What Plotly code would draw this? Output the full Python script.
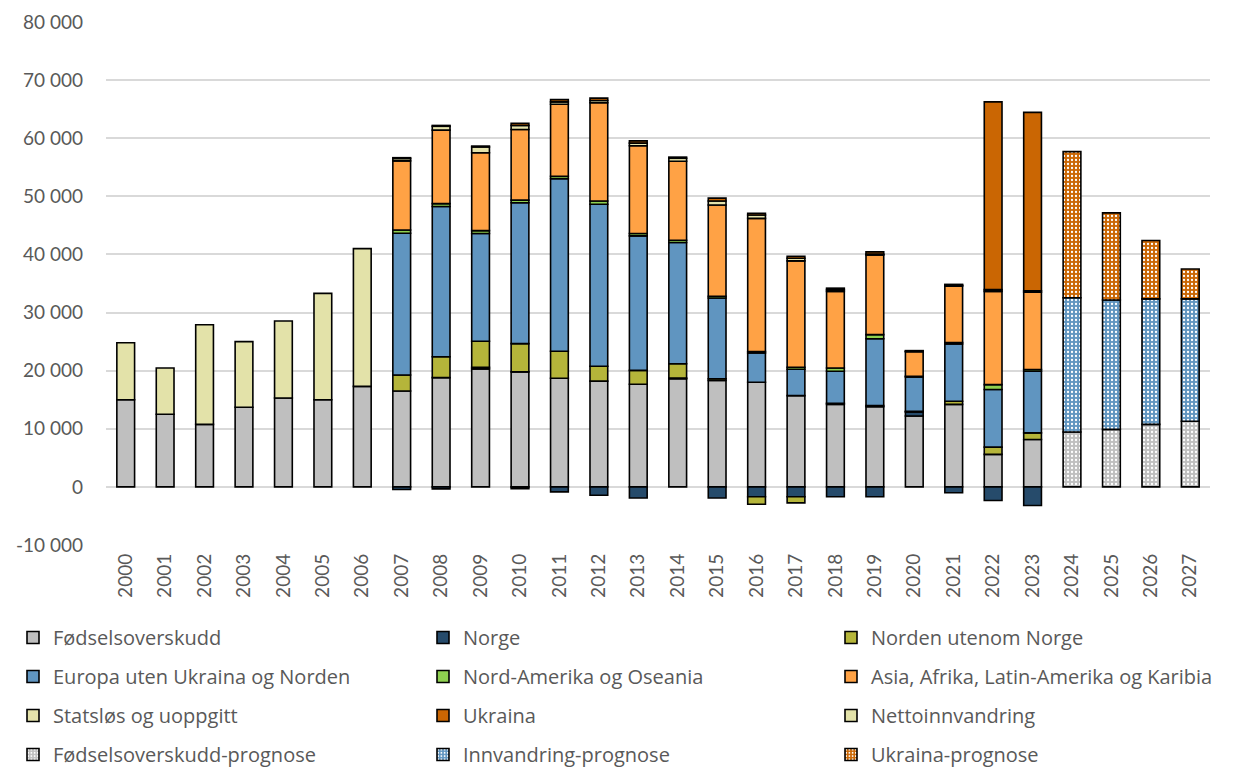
import plotly.graph_objects as go

years = [str(y) for y in range(2000, 2028)]
N = None

fodselsoverskudd = [15000, 12500, 10750, 13700, 15300, 15000, 17300, 16500, 18800, 20300,
                    19800, 18700, 18200, 17650, 18600, 18300, 18000, 15700, 14200, 13800,
                    12200, 14200, 5600, 8150, N, N, N, N]
norge = [N, N, N, N, N, N, N, -450, -350, 300,
         -300, -850, -1450, -1900, 150, -1900, -1700, -1700, -1700, -1700,
         700, -1000, -2350, -3200, N, N, N, N]
norden = [N, N, N, N, N, N, N, 2750, 3600, 4450,
          4850, 4650, 2550, 2400, 2450, 300, -1300, -1050, 200, 200,
          100, 550, 1250, 1150, N, N, N, N]
europa = [N, N, N, N, N, N, N, 24400, 25850, 18550,
          24250, 29700, 27900, 23150, 20850, 13900, 5050, 4550, 5500, 11500,
          5900, 9850, 9900, 10600, N, N, N, N]
nord_amerika = [N, N, N, N, N, N, N, 550, 500, 500,
                450, 400, 550, 400, 400, 300, 250, 350, 550, 700,
                150, 250, 850, 300, N, N, N, N]
asia_afrika = [N, N, N, N, N, N, N, 11900, 12650, 13400,
               12150, 12400, 16900, 15100, 13600, 15700, 22900, 18300, 13200, 13700,
               4200, 9700, 16050, 13300, N, N, N, N]
statslos = [N, N, N, N, N, N, N, 400, 650, 1000,
            700, 400, 400, 450, 500, 700, 600, 450, 300, 150,
            100, 150, 300, 250, N, N, N, N]
ukraina = [N, N, N, N, N, N, N, 150, 150, 150,
           350, 400, 400, 400, 200, 500, 300, 350, 250, 400,
           100, 150, 32300, 30700, N, N, N, N]
nettoinnvandring = [9800, 7950, 17150, 11300, 13250, 18300, 23700] + [N] * 21
fodsel_prognose = [N] * 24 + [9450, 9900, 10750, 11300]
innvandring_prognose = [N] * 24 + [23100, 22250, 21600, 21050]
ukraina_prognose = [N] * 24 + [25150, 15000, 10050, 5150]

y_ticks = [-10000, 0, 10000, 20000, 30000, 40000, 50000, 60000, 70000, 80000]
y_labels = ["-10 000", "0", "10 000", "20 000", "30 000", "40 000",
            "50 000", "60 000", "70 000", "80 000"]

TEXT = "#595959"
FONT = "Lato"
LEGEND_FONT = "Open Sans"

W, H = 1233, 769
ML, MR, MT, MB = 106, 23, 22, 224
PW, PH = W - ML - MR, H - MT - MB

series = [
    ("Fødselsoverskudd", fodselsoverskudd, "#BFBFBF", False, "legend"),
    ("Norge", norge, "#264B6B", False, "legend2"),
    ("Norden utenom Norge", norden, "#B5B53A", False, "legend3"),
    ("Europa uten Ukraina og Norden", europa, "#6095C0", False, "legend"),
    ("Nord-Amerika og Oseania", nord_amerika, "#8FD150", False, "legend2"),
    ("Asia, Afrika, Latin-Amerika og Karibia", asia_afrika, "#FFA245", False, "legend3"),
    ("Statsløs og uoppgitt", statslos, "#E5E3AB", False, "legend"),
    ("Ukraina", ukraina, "#CA6603", False, "legend2"),
    ("Nettoinnvandring", nettoinnvandring, "#E3E2A9", False, "legend3"),
    ("Fødselsoverskudd-prognose", fodsel_prognose, "#BFBFBF", True, "legend"),
    ("Innvandring-prognose", innvandring_prognose, "#6095C0", True, "legend2"),
    ("Ukraina-prognose", ukraina_prognose, "#CA6603", True, "legend3"),
]

fig = go.Figure()
for i, (name, vals, color, dotted, leg) in enumerate(series):
    marker = dict(color=color, line=dict(color="black", width=1.6))
    if dotted:
        marker["pattern"] = dict(shape=".", fgcolor="white", bgcolor=color,
                                 size=4, solidity=0.25, fillmode="replace")
    fig.add_trace(go.Bar(x=years, y=vals, name=name, marker=marker,
                         legend=leg, legendgroup=f"g{i}"))


def px_x(px):
    return (px - ML) / PW


def px_y(py):
    return (H - MB - py) / PH


legend_common = dict(
    orientation="v", xanchor="left", yanchor="top", y=px_y(618),
    font=dict(family=LEGEND_FONT, size=20, color=TEXT),
    tracegroupgap=10, bgcolor="rgba(0,0,0,0)", itemclick=False,
)

fig.update_layout(
    width=W, height=H, autosize=False,
    barmode="relative", bargap=0.55,
    plot_bgcolor="white", paper_bgcolor="white",
    margin=dict(l=ML, r=MR, t=MT, b=MB, autoexpand=False),
    font=dict(family=FONT, color=TEXT),
    legend=dict(x=px_x(13), **legend_common),
    legend2=dict(x=px_x(423), **legend_common),
    legend3=dict(x=px_x(831), **legend_common),
    xaxis=dict(type="category", range=[-0.5, 27.5], tickangle=-90,
               tickfont=dict(family=FONT, size=19, color=TEXT),
               showgrid=False, ticks="", showline=False, automargin=False,
               ticklabelstandoff=4),
    yaxis=dict(range=[-10000, 80000], tickvals=y_ticks, ticktext=y_labels,
               tickfont=dict(family=FONT, size=19, color=TEXT),
               gridcolor="#D9D9D9", gridwidth=1.5, zeroline=False,
               showline=False, ticks="", ticklabelstandoff=22, automargin=False),
)

fig.write_html("out.html")
